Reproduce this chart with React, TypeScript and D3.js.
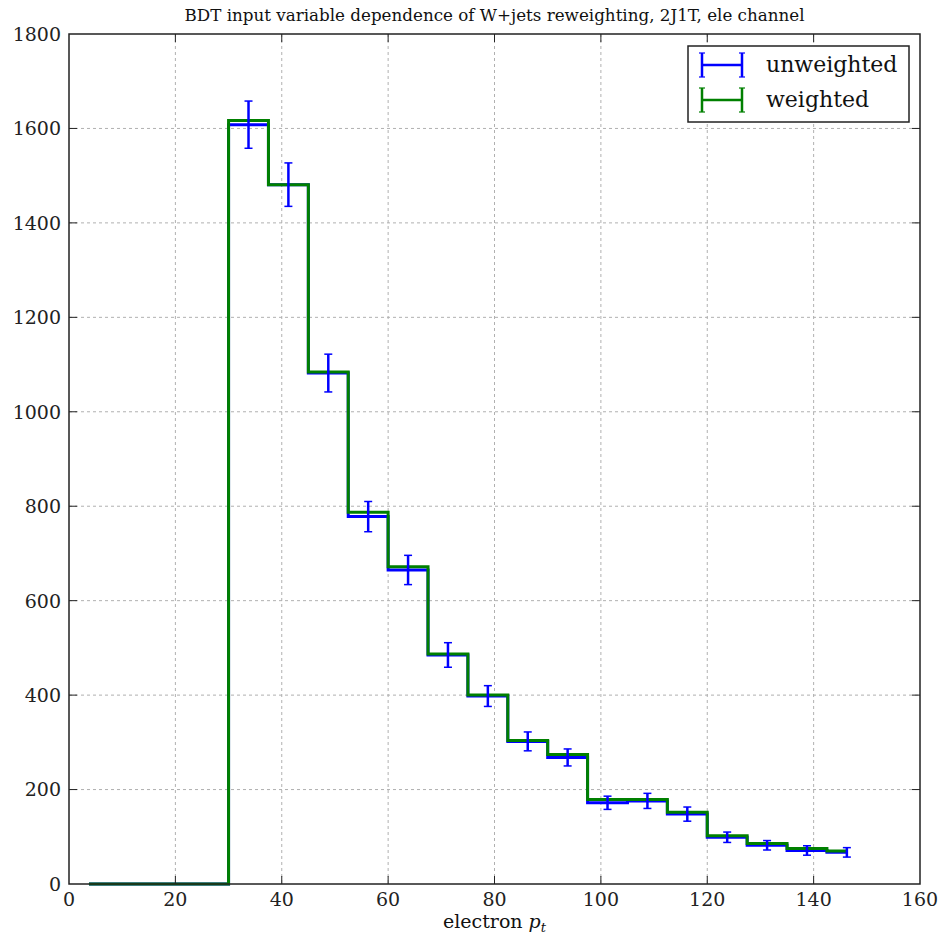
import React from "react";
import * as d3 from "d3";

const binEdges = [0, 7.5, 15, 22.5, 30, 37.5, 45, 52.5, 60, 67.5, 75, 82.5, 90, 97.5, 105, 112.5, 120, 127.5, 135, 142.5, 150];
const unweighted = [0, 0, 0, 0, 1608, 1481, 1082, 778, 665, 485, 398, 302, 268, 172, 176, 148, 99, 82, 71, 67];
const weighted = [0, 0, 0, 0, 1617, 1481, 1084, 787, 672, 487, 400, 304, 274, 179, 179, 152, 102, 86, 75, 70];
const unweightedErr = [0, 0, 0, 0, 50, 46, 40, 32, 31, 26, 22, 20, 18, 14, 16, 15, 11, 10, 10, 10];
const xTicks = [0, 20, 40, 60, 80, 100, 120, 140, 160];
const yTicks = [0, 200, 400, 600, 800, 1000, 1200, 1400, 1600, 1800];
const titleText = "BDT input variable dependence of W+jets reweighting, 2J1T, ele channel";
const legendLabels = ["unweighted", "weighted"];
const seriesColors = ["#0000ff", "#008000"];

const W = 943;
const H = 938;
const M = { left: 69, right: 920, top: 34, bottom: 884 };
const FONT = "'DejaVu Serif', serif";

export default function App() {
  const x = d3.scaleLinear().domain([0, 160]).range([M.left, M.right]);
  const y = d3.scaleLinear().domain([0, 1800]).range([M.bottom, M.top]);
  const centers = binEdges.slice(0, -1).map((e, i) => (e + binEdges[i + 1]) / 2);

  const stepLine = d3
    .line<[number, number]>()
    .x((d) => x(d[0]))
    .y((d) => y(d[1]))
    .curve(d3.curveStep);

  const bluePath = stepLine(centers.map((c, i) => [c, unweighted[i]] as [number, number])) || "";
  const greenPath = stepLine(centers.map((c, i) => [c, weighted[i]] as [number, number])) || "";

  const tickLen = 8;
  const capHalf = 4;

  return (
    <svg width={W} height={H} style={{ position: "absolute", left: 0, top: 0, background: "#fff" }}>
      <rect x={0} y={0} width={W} height={H} fill="#fff" />
      {/* grid */}
      <g stroke="#b0b0b0" strokeWidth={1} strokeDasharray="3,3">
        {xTicks.slice(1, -1).map((t) => (
          <line key={"gx" + t} x1={x(t)} x2={x(t)} y1={M.top} y2={M.bottom} />
        ))}
        {yTicks.slice(1, -1).map((t) => (
          <line key={"gy" + t} x1={M.left} x2={M.right} y1={y(t)} y2={y(t)} />
        ))}
      </g>
      {/* data */}
      <path d={bluePath} fill="none" stroke={seriesColors[0]} strokeWidth={3} />
      <path d={greenPath} fill="none" stroke={seriesColors[1]} strokeWidth={3} />
      <g stroke={seriesColors[0]} strokeWidth={2.5}>
        {centers.map((c, i) =>
          unweightedErr[i] > 0 ? (
            <g key={"e" + i}>
              <line x1={x(c)} x2={x(c)} y1={y(unweighted[i] - unweightedErr[i])} y2={y(unweighted[i] + unweightedErr[i])} />
              <line x1={x(c) - capHalf} x2={x(c) + capHalf} y1={y(unweighted[i] - unweightedErr[i])} y2={y(unweighted[i] - unweightedErr[i])} strokeWidth={1.5} />
              <line x1={x(c) - capHalf} x2={x(c) + capHalf} y1={y(unweighted[i] + unweightedErr[i])} y2={y(unweighted[i] + unweightedErr[i])} strokeWidth={1.5} />
            </g>
          ) : null
        )}
      </g>
      {/* ticks */}
      <g stroke="#222" strokeWidth={1}>
        {xTicks.slice(1, -1).map((t) => (
          <g key={"tx" + t}>
            <line x1={x(t)} x2={x(t)} y1={M.bottom} y2={M.bottom - tickLen} />
            <line x1={x(t)} x2={x(t)} y1={M.top} y2={M.top + tickLen} />
          </g>
        ))}
        {yTicks.slice(1, -1).map((t) => (
          <g key={"ty" + t}>
            <line x1={M.left} x2={M.left + tickLen} y1={y(t)} y2={y(t)} />
            <line x1={M.right} x2={M.right - tickLen} y1={y(t)} y2={y(t)} />
          </g>
        ))}
      </g>
      {/* frame */}
      <rect x={M.left} y={M.top} width={M.right - M.left} height={M.bottom - M.top} fill="none" stroke="#222" strokeWidth={1.5} />
      {/* tick labels */}
      <g fontFamily={FONT} fontSize={19} fill="#222">
        {xTicks.map((t) => (
          <text key={"lx" + t} x={x(t)} y={M.bottom + 22} textAnchor="middle">
            {t}
          </text>
        ))}
        {yTicks.map((t) => (
          <text key={"ly" + t} x={M.left - 8} y={y(t)} dy="0.36em" textAnchor="end">
            {t}
          </text>
        ))}
      </g>
      {/* title */}
      <text x={(M.left + M.right) / 2} y={21} textAnchor="middle" fontFamily={FONT} fontSize={16} fill="#111" textLength={620} lengthAdjust="spacingAndGlyphs">
        {titleText}
      </text>
      {/* x label */}
      <text x={(M.left + M.right) / 2} y={928} textAnchor="middle" fontFamily={FONT} fontSize={19} fill="#111">
        electron <tspan fontStyle="italic">p</tspan>
        <tspan fontStyle="italic" fontSize={13} dy={4}>t</tspan>
      </text>
      {/* legend */}
      <rect x={688} y={46} width={221} height={76} fill="#fff" stroke="#222" strokeWidth={1.5} />
      {legendLabels.map((lab, i) => {
        const cy = 65 + i * 35;
        const col = seriesColors[i];
        return (
          <g key={"leg" + i}>
            <line x1={702} x2={742} y1={cy} y2={cy} stroke={col} strokeWidth={2.5} />
            <line x1={702} x2={702} y1={cy - 12} y2={cy + 12} stroke={col} strokeWidth={2.5} />
            <line x1={742} x2={742} y1={cy - 12} y2={cy + 12} stroke={col} strokeWidth={2.5} />
            <line x1={699} x2={705} y1={cy - 12} y2={cy - 12} stroke={col} strokeWidth={1.2} />
            <line x1={699} x2={705} y1={cy + 12} y2={cy + 12} stroke={col} strokeWidth={1.2} />
            <line x1={739} x2={745} y1={cy - 12} y2={cy - 12} stroke={col} strokeWidth={1.2} />
            <line x1={739} x2={745} y1={cy + 12} y2={cy + 12} stroke={col} strokeWidth={1.2} />
            <text x={766} y={cy + 7} fontFamily={FONT} fontSize={22} fill="#111">
              {lab}
            </text>
          </g>
        );
      })}
    </svg>
  );
}
